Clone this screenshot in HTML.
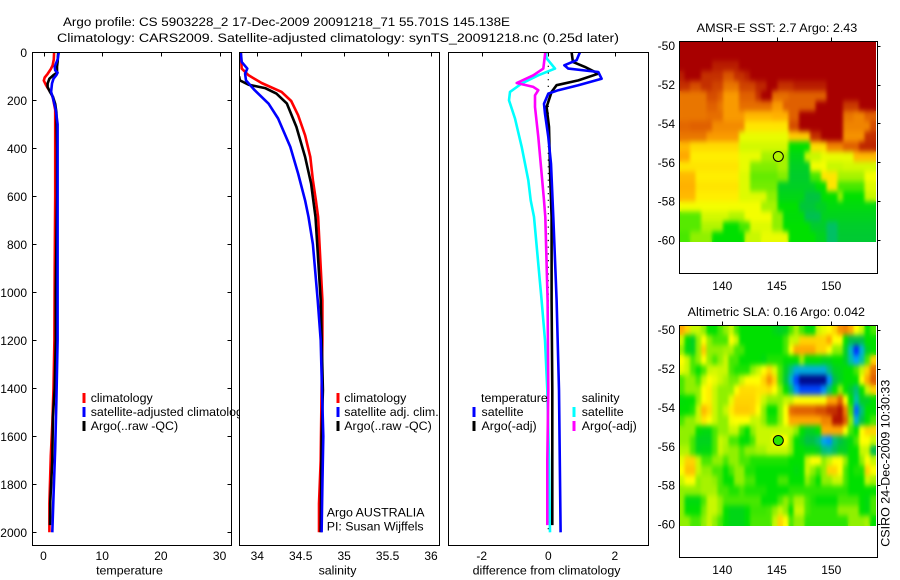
<!DOCTYPE html>
<html lang="en">
<head>
<meta charset="utf-8">
<title>Argo profile</title>
<style>
html,body{margin:0;padding:0;background:#fff;}
svg{display:block;}
text{font-family:"Liberation Sans",sans-serif;font-size:12.4px;fill:#000;}
text.num{font-size:12px;}
</style>
</head>
<body>
<svg id="chart" xmlns="http://www.w3.org/2000/svg" width="900" height="580" viewBox="0 0 900 580">
<defs>
<clipPath id="clip-temp"><rect x="32.5" y="52.5" width="199" height="493"/></clipPath>
<clipPath id="clip-sal"><rect x="239.5" y="52.5" width="200" height="493"/></clipPath>
<clipPath id="clip-diff"><rect x="448.5" y="52.5" width="200" height="493"/></clipPath>
<filter id="map-smooth" x="0" y="0" width="1" height="1" color-interpolation-filters="sRGB">
<feGaussianBlur in="SourceGraphic" stdDeviation="1.5 2.6" result="soft"/>
<feMerge><feMergeNode in="SourceGraphic"/><feMergeNode in="soft"/></feMerge>
</filter>
</defs>
<rect x="0" y="0" width="900" height="580" fill="#fff"/>
<text x="63" y="26" textLength="447" lengthAdjust="spacingAndGlyphs">Argo profile: CS 5903228_2 17-Dec-2009 20091218_71 55.701S 145.138E</text>
<text x="57" y="42" textLength="562" lengthAdjust="spacingAndGlyphs">Climatology: CARS2009. Satellite-adjusted climatology: synTS_20091218.nc (0.25d later)</text>
<g id="panels"></g>
<text x="696.7" y="32" textLength="160.6" lengthAdjust="spacingAndGlyphs">AMSR-E SST: 2.7 Argo: 2.43</text>
<text x="687.7" y="316" textLength="177.3" lengthAdjust="spacingAndGlyphs">Altimetric SLA: 0.16 Argo: 0.042</text>
<text transform="translate(889.5 546.7) rotate(-90)" x="0" y="0" textLength="167" lengthAdjust="spacingAndGlyphs">CSIRO 24-Dec-2009 10:30:33</text>
</svg>
<script>
// ---- axis tick labels ----
const depthTicks = [0,200,400,600,800,1000,1200,1400,1600,1800,2000];
const tempTicks = [0,10,20,30];
const salTicks = [34,34.5,35,35.5,36];
const diffTicks = [-2,0,2];
const lonTicks = [140,145,150];
const latTicks = [-50,-52,-54,-56,-58,-60];

// ---- temperature panel ----
const tempClimDepth = [0,30,55,70,90,105,118,135,150,170,190,240,340,600,900,1200,1400,1550,1680,1880,2000];
const tempClimValue = [1.8,1.75,1.55,1.25,0.7,0.2,0.05,0.4,0.75,1.3,1.6,2.0,2.0,2.0,1.9,1.85,1.7,1.5,1.25,1.0,1.0];
const tempArgoDepth = [0,40,60,85,95,110,130,145,165,185,215,250,400,600,1000,1200,1400,1520,1700,1870,1970];
const tempArgoValue = [2.5,2.4,2.3,2.3,1.7,1.0,0.7,0.7,1.1,1.6,2.0,2.2,2.3,2.3,2.1,2.1,1.9,1.6,1.5,1.15,1.1];
const tempSatDepth = [0,30,60,75,85,95,110,130,165,190,240,300,600,1000,1200,1450,1650,1850,2000];
const tempSatValue = [2.6,2.4,1.9,2.0,2.4,2.2,1.7,1.45,1.3,1.6,2.1,2.4,2.4,2.4,2.4,2.2,2.0,1.7,1.5];

// ---- salinity panel ----
const salClimDepth = [0,68,96,128,165,203,262,346,436,533,617,686,1033,1200,1400,1700,1880,2000];
const salClimValue = [33.81,33.82,33.9,34.05,34.28,34.39,34.47,34.55,34.61,34.64,34.675,34.7,34.75,34.75,34.74,34.73,34.71,34.71];
const salArgoDepth = [100,117,135,149,172,213,311,436,547,617,686,1033,1408,1600,2000];
const salArgoValue = [33.79,33.8,33.9,34.09,34.22,34.34,34.45,34.55,34.62,34.645,34.67,34.73,34.755,34.74,34.73];
const salSatDepth = [0,40,68,89,117,158,214,276,394,505,617,686,800,1033,1200,1408,1600,1800,2000];
const salSatValue = [33.81,33.82,33.885,33.86,33.87,33.97,34.13,34.24,34.38,34.47,34.55,34.59,34.64,34.695,34.73,34.745,34.76,34.75,34.74];

// ---- difference panel ----
const diffSalSatDepth = [0,25,68,96,130,165,200,276,394,533,617,686,1033,1200,1408,1700,2000];
const diffSalSatValue = [-0.07,-0.05,0.2,-0.3,-0.8,-1.15,-1.18,-1.0,-0.8,-0.6,-0.53,-0.43,-0.2,-0.1,-0.03,0.02,0.05];
const diffSalArgoDepth = [0,68,96,128,144,158,179,228,353,505,617,686,1033,1408,1700,1970];
const diffSalArgoValue = [-0.09,-0.15,-0.45,-0.95,-0.45,-0.3,-0.4,-0.4,-0.3,-0.2,-0.13,-0.09,-0.02,0,-0.03,-0.03];
const diffTempArgoDepth = [0,40,61,89,117,137,165,228,311,533,686,1033,1408,1970];
const diffTempArgoValue = [0.7,0.74,1.1,1.5,0.9,0.25,0.1,-0.05,0.02,0.06,0.1,0.1,0.12,0.12];
const diffTempSatDepth = [0,33,54,68,82,110,137,158,172,214,256,353,464,686,1033,1408,2000];
const diffTempSatValue = [0.95,0.85,0.48,0.6,1.5,1.6,0.9,0.3,0,-0.13,-0.1,0,0.08,0.15,0.25,0.32,0.37];
const diffZeroDepth = [0,2000];
const diffZeroValue = [0,0];

// ---- satellite maps (colour level per grid cell, rows north to south) ----
const sstGrid = [
[10,10,10,10,10,10,10,10,10,10,10,10,10,10,10,10,10,10,10,10,10,10,10,10,10,10,10,10,10,10,10,10,10,10,10,10],
[10,10,10,10,10,10,10,10,10,10,10,10,10,10,10,10,10,10,10,10,10,10,10,10,10,10,10,10,10,10,10,10,10,10,10,10],
[10,10,10,10,10,10,9.7,9.7,9.7,9.7,9.7,10,10,10,10,10,10,10,10,10,10,10,10,10,10,10,10,10,10,10,10,10,10,10,10,10],
[9.7,10,10,10,9.5,9.5,9.5,9.5,9.1,9.1,9.5,9.5,9.7,10,10,10,10,10,10,10,10,10,10,10,10,10,10,10,10,10,10,10,10,10,10,10],
[9.5,9.5,9.2,9.2,9.5,9.5,9.3,9.3,8.7,8.7,8.7,9.3,9.3,9.3,9.6,9.6,10,10,9.5,9.5,9.5,9.7,9.7,9.7,9.7,9.7,9.7,10,10,10,10,10,10,10,10,10],
[8.7,8.7,8.7,8.7,8.7,9.2,9.2,9,8.2,8.2,8.2,9,9,9,9.5,10,10,8.8,8.8,8.8,9,9,9,9,9,9,9,10,10,10,10,10,10,10,10,10],
[8.7,8.7,8.7,8.7,8.7,9,9,8.7,8.2,8.2,8.2,8.8,8.8,8.8,8.8,8.8,8.8,8.2,8.2,9,9,9,9,9,9,10,10,10,10,10,9.4,9.4,9.4,10,10,10],
[8.7,8.7,8.7,8.7,8.7,8.8,8.8,8.8,8.2,8.2,8.2,8.2,7.8,7.8,7.8,7.8,7.8,7.9,7.9,7.9,9,9,10,10,10,10,10,10,10,10,8.7,8.7,8.5,8.5,9,9],
[8.9,8.9,9,9,9,9,8.4,8.4,8.4,8.4,8.4,8.4,7.3,7.3,7.3,7.3,7.3,7.3,7.3,7.3,9.2,9.2,10,10,10,10,10,10,10,10,8.5,8.5,8.5,8.5,8.5,9.2],
[8.7,8.7,8.7,8.7,8.7,8.2,8.2,8.2,8.2,8.2,8.2,6.8,6.8,6.8,6.8,6.8,6.8,6.8,6.8,6.8,7.6,7.6,7.6,7.6,9.5,9.5,10,10,10,10,8.3,8.3,8.3,8.3,9.5,9.5],
[7.8,7.8,7.4,7.4,7.4,7.4,7.4,7.4,7.4,7.4,7.4,6.6,6.6,6.6,6.6,6.6,6.6,6.6,6.6,6.6,5,5,5,5,7.4,7.4,7.4,8.5,8.5,8.5,9,9,9,9.6,9.6,9.6],
[8,8,7.2,7.2,7.2,7.2,7.2,7.2,7.2,7.2,7.2,6.8,6.8,6.8,6.8,6.2,6.2,6.2,6.2,6.2,4.7,4.7,4.7,6.5,6.5,6.5,6.8,6.8,6.8,6.8,6.8,6.8,7.8,7.8,7.8,7.8],
[7.3,7.3,7.3,7.3,7.3,7.3,7.3,7.3,7.3,7.3,7.3,6.8,6.8,5.9,5.9,5.9,5.9,5.9,6.2,6.2,4.5,4.5,4.5,4.5,6.9,6.9,6.9,6.5,6.5,6.5,6.6,6.6,6.6,6.6,6.6,6.6],
[7.8,7.8,7.8,7.2,7.2,7.2,7.2,7.2,7.2,7.2,7.2,6.7,6.7,5.7,5.7,5.7,5.7,5.7,5.9,5.9,4.4,4.4,4.4,4.4,5.5,5.5,7.3,7.3,7.3,6.2,6.2,6.2,6.2,6.2,6.9,6.9],
[7.9,7.9,7.9,7.3,7.3,7.3,7.3,7.3,7.3,7.3,7.3,6.7,6.7,5.8,5.8,5.8,5.8,5.8,4.5,4.5,4.5,4.5,4.5,4.5,4.5,5,5,7.3,7.3,5.5,5.5,5.5,5.5,5.5,6.7,6.7],
[7.8,7.8,7.8,7.2,7.2,7.2,7.2,7.2,7.2,7.2,7.2,6.7,6.7,6.7,6.7,6.7,6,6,4.7,4.7,4.7,4.7,4.7,4.1,4.1,4.1,5,5,5,6,5,5,5,5,6.5,6.5],
[6.9,6.9,6.9,6.9,6.9,6.9,6.9,6.9,6.9,6.9,6.9,6.9,6.9,6.9,6.9,6.2,6.2,6.2,5,5,5,5,4.2,4.2,4.2,4.5,4.5,4.8,4.8,4.8,4.8,4.8,4.8,4.8,4.8,4.8],
[5.6,5.6,5.6,5.6,6.6,6.6,6.6,6.6,6.6,6.3,6.3,6.3,6.9,6.9,6.9,6.9,6.9,6,6,4.9,4.9,4.9,4.9,3.9,3.9,3.9,4.6,4.6,4.6,4.6,4.6,4.6,4.6,4.6,4.6,4.6],
[5.6,5.6,5.6,5.6,6.3,6.3,6.3,6.3,5,5,5,5.5,5.5,6.7,6.7,6.7,6.7,6,6,5,5,5,5,5,4.4,4.4,4.4,3.7,3.7,4.4,4.4,4.4,4.4,4.4,4.4,4.4],
[5.5,5.5,6,6,6,6,5,5,5,5,5,5,6.5,6.5,6.5,6.8,6.8,6.8,6.8,6.8,5,5,5,5,5,4.6,4.6,3.7,3.7,4.3,4.3,4.3,4.3,4.3,4.3,4.3]
];
const slaGrid = [
[8,7.5,6.5,6.5,6,5,5,5.5,6,6.5,5.5,5,5,5,5,5,5,4.7,4.5,4.7,5.5,6.2,5.5,4.9,4.9,6.5,6.8,7,7.5,8.3,8.5,8,7,6.5,5,5.5],
[6.5,5,4.5,6,7,6,5.5,5.5,5.5,7,6.5,5,5,5,5,5,5,5,5,5.5,6.5,6.5,7.5,7.5,7.5,7.5,7.5,8,7,7,5,4,4,4,5,5],
[6,4.8,4.6,6,7.6,6,6,6,6.2,6.2,5.5,5.5,5,5,5,5,5,5,5,5.5,7,8,8,8,8,7.5,7.5,7,6,6,4.5,2.7,1,2.5,4.5,5],
[7,6.5,5.5,6,7,6,5.5,6,6.5,5.5,5.5,5,5,5,5,4.8,5.2,5.2,5.2,5,5,5,6,5,5,5,4.7,4.7,5,5,4.5,3,2,3,5.5,7.5],
[6.8,6.5,5.5,5,5.5,6.5,6.6,6.5,6.5,5.5,5.2,5.2,5.2,6,6.5,7,7.5,6.7,5.5,4.5,3.4,2.4,2.4,2.4,2.4,2.4,2.4,3.5,4.5,4.7,5,5,5.5,6.5,7.5,8.7],
[5.5,6,6,5.5,6.5,7,6.8,6.5,6.2,5.8,5.8,6.5,7,7,7,7.5,8.3,7.5,5.5,4.2,2.6,1.2,0.2,0.2,0.2,0.2,0.2,1.8,4,4.6,5,5,5,7,8,9],
[5.5,6,6,6,7,7.2,6.5,6,6,6,7,7.4,7.4,7.4,7.3,7.3,7.4,7,6,5,3.6,1.8,1.2,1.2,1.2,1.2,1.8,3.6,5,6,5,4.4,3.5,5,6.5,7.5],
[4.9,5,5,6,7,7.2,6.5,6,6,6.8,7.5,7.5,7.5,7.5,7.2,6.5,6,6,6,6.5,6.5,7,7,7,7,7,7,8,8,9,7,5,3,4.5,4.5,5],
[5,5,5.2,6.5,7.8,7.4,6.5,6,6.5,7.2,7.6,7.6,7.6,7.5,7,6,5,5,6,7,8.8,9,9,9,9,9.2,9.2,9.5,9.5,9.8,8.5,5.5,1.5,3.5,5,5],
[5.5,6,6,6.5,7.3,7,6.5,6,6,6.9,7,7,7,6.5,6.5,6,5.2,5.2,6,7,8,8,8,8,8,8,8.5,8.5,9.8,9.8,9,6,2.5,4,5,5.5],
[6,6,6,5,4.8,4.8,5.5,6,6,6.5,6.5,5.5,5,6,6.5,6.5,6.5,6.5,6.5,6.5,6.5,6,5,4.5,4.6,5,8,8,8,8,7,5.5,5,7,7.5,7.5],
[6,6,5.5,4.6,4.6,4.6,5.5,6.5,6.3,5.5,5.5,5,4.9,5.5,6.5,6.5,6.5,7,7,7,6,5,4.6,4,4,3.5,2.2,1.8,3.5,4,4.5,4.8,5.5,7,7,6.5],
[6.3,6.3,5.5,4.7,4.8,4.8,5.5,6.5,6.2,6,6,5.5,6,6,6.2,6.2,6.5,6.5,6.5,6.5,6,5,5,4.8,4.8,4.5,3.5,3.3,3.8,4.5,4.5,5,5,6.5,6.5,4],
[6.8,7.5,7.5,6.5,5.5,5.5,6,6,5.5,6,6,5.5,5.5,5.2,5.2,5.2,5.2,5.2,5.2,5.2,5,5,5,6.5,7,7,6,6.5,7,7,6,5,5,6,7,6.5],
[7,7.7,7.7,6.5,6,6,5.5,5.5,5,5.5,6,6,5.2,5.2,5,5,5,5,5,5,5,4.8,5,6.5,6,5.5,6,7.5,7.5,7,5.5,5,5.2,5.2,7.5,7],
[6.5,7,7,6,6.2,6.2,6,5.5,5,5,6,6,5.5,5.5,5,5,5,5,5.5,5.5,5,5,5,6,5.5,5,6,6,6.5,6.5,5.5,5,5,5,6.5,6.2],
[6,6,6,6,6.2,6.2,6.2,5.5,5.5,5.2,5.2,5.5,5.2,5.2,5.2,5.2,5,5,5,5,5.3,5.3,5.3,5.3,5.3,5.3,5.3,5.3,5.3,5.3,5.3,5,5,5,5,5],
[6,4.8,4.8,4.8,5.5,6.5,6.5,6,5.5,5.5,5.5,5.5,5.5,5.5,5.5,5,5,5,5.5,6,5.5,6.2,6.2,5.5,5.2,5,5,5,5,5.5,5.5,5.5,5.5,5,4.8,5.5],
[6,5,5,5,5.8,6.5,6.5,6,5,4.7,4.7,4.7,5,5.4,5.4,5.4,5.5,6,6.5,6,5,6.5,6.5,5.5,5.3,5.3,5.3,5.3,5.3,6,6,6,6,5,4.8,5.5],
[6,6,5.5,5.5,6,6.5,6,5.5,5,4.7,4.7,4.7,5,5.5,5.5,5.5,5.5,6.5,7.5,7,5.5,6,6,5.3,5.3,5.3,5.3,5.3,5.3,5.3,5.3,6,6,6,6.2,5]
];
const argoLon = [145.138];
const argoLat = [-55.701];
const sstArgoLevel = [6.3];
const slaArgoLevel = [5.3];

const SVG_NS = 'http://www.w3.org/2000/svg';
const root = document.getElementById('panels');

function addLine(parent, x1, y1, x2, y2, name, color, width) {
  const el = document.createElementNS(SVG_NS, 'line');
  el.setAttribute('x1', x1); el.setAttribute('y1', y1);
  el.setAttribute('x2', x2); el.setAttribute('y2', y2);
  el.setAttribute('stroke', color || '#000');
  el.setAttribute('stroke-width', width || 1);
  el.setAttribute('shape-rendering', 'crispEdges');
  
  
  parent.appendChild(el);
  return el;
}
function addText(parent, x, y, str, name, anchor, isNumber) {
  const el = document.createElementNS(SVG_NS, 'text');
  el.setAttribute('x', x); el.setAttribute('y', y);
  if (anchor) el.setAttribute('text-anchor', anchor);
  if (isNumber) el.setAttribute('class', 'num');
  el.textContent = str;
  
  
  parent.appendChild(el);
  return el;
}
function addFrame(parent, x, y, w, h, name) {
  const el = document.createElementNS(SVG_NS, 'rect');
  el.setAttribute('x', x); el.setAttribute('y', y);
  el.setAttribute('width', w); el.setAttribute('height', h);
  el.setAttribute('fill', 'none');
  el.setAttribute('stroke', '#000');
  el.setAttribute('stroke-width', 1);
  el.setAttribute('shape-rendering', 'crispEdges');
  
  
  parent.appendChild(el);
}
function addBackground(parent, x, y, w, h) {
  const el = document.createElementNS(SVG_NS, 'rect');
  el.setAttribute('x', x); el.setAttribute('y', y);
  el.setAttribute('width', w); el.setAttribute('height', h);
  el.setAttribute('fill', '#fff');
  
  
  parent.appendChild(el);
}
function addGroup(name) {
  const g = document.createElementNS(SVG_NS, 'g');
  
  
  root.appendChild(g);
  return g;
}
function addProfile(parent, xFn, depths, values, color, name, width, dash) {
  const el = document.createElementNS(SVG_NS, 'polyline');
  const pts = depths.map(function (d, i) { return xFn(values[i]).toFixed(1) + ',' + yDepth(d).toFixed(1); });
  el.setAttribute('points', pts.join(' '));
  el.setAttribute('fill', 'none');
  el.setAttribute('stroke', color);
  el.setAttribute('stroke-width', width || 2.6);
  el.setAttribute('stroke-linejoin', 'round');
  if (dash) el.setAttribute('stroke-dasharray', dash);
  
  
  parent.appendChild(el);
}
function yDepth(d) { return 52.3 + d * 0.24; }
function xTemp(v) { return 43.5 + v * 5.87; }
function xSal(v) { return 257.3 + (v - 34) * 86.85; }
function xDiff(v) { return 548.3 + v * 33.3; }
function addLegendEntry(parent, barX, textX, baseY, color, label, name) {
  addLine(parent, barX, baseY - 9, barX, baseY + 1, name + '-swatch', color, 3);
  addText(parent, textX, baseY, label, name);
}

// ===== temperature panel =====
(function () {
  const g = addGroup('temperature-panel');
  addBackground(g, 32.5, 52.5, 199, 493);
  const c = addGroup('temperature-profiles');
  c.setAttribute('clip-path', 'url(#clip-temp)');
  g.appendChild(c);
  addProfile(c, xTemp, tempClimDepth, tempClimValue, '#ff0000', 'temperature-climatology-line');
  addProfile(c, xTemp, tempArgoDepth, tempArgoValue, '#000000', 'temperature-argo-line');
  addProfile(c, xTemp, tempSatDepth, tempSatValue, '#0000ff', 'temperature-satellite-line');
  addFrame(g, 32.5, 52.5, 199, 493, 'temperature-frame');
  depthTicks.forEach(function (d) {
    const y = Math.round(yDepth(d)) + 0.5;
    addLine(g, 32.5, y, 36.5, y, 'depth-tick-left');
    addLine(g, 227.5, y, 231.5, y, 'depth-tick-right');
    addText(g, 27, yDepth(d) + 4.5, String(d), 'depth-tick-label', 'end', true);
  });
  tempTicks.forEach(function (t) {
    const x = Math.round(xTemp(t)) + 0.5;
    addLine(g, x, 52.5, x, 56.5, 'temperature-top-tick');
    addText(g, xTemp(t), 560, String(t), 'temperature-tick-label', 'middle', true);
  });
  addText(g, 129.5, 574.5, 'temperature', 'temperature-axis-title', 'middle');
  addLegendEntry(g, 84, 90.7, 402, '#ff0000', 'climatology', 'legend-climatology');
  addLegendEntry(g, 84, 90.7, 416, '#0000ff', 'satellite-adjusted climatology', 'legend-satellite-adjusted');
  addLegendEntry(g, 84, 90.7, 430, '#000000', 'Argo(..raw -QC)', 'legend-argo');
})();

// ===== salinity panel =====
(function () {
  const g = addGroup('salinity-panel');
  addBackground(g, 239, 52, 201, 494);
  const c = addGroup('salinity-profiles');
  c.setAttribute('clip-path', 'url(#clip-sal)');
  g.appendChild(c);
  addProfile(c, xSal, salClimDepth, salClimValue, '#ff0000', 'salinity-climatology-line');
  addProfile(c, xSal, salArgoDepth, salArgoValue, '#000000', 'salinity-argo-line');
  addProfile(c, xSal, salSatDepth, salSatValue, '#0000ff', 'salinity-satellite-line');
  addFrame(g, 239.5, 52.5, 200, 493, 'salinity-frame');
  salTicks.forEach(function (t) {
    const x = Math.round(xSal(t)) + 0.5;
    addLine(g, x, 52.5, x, 56.5, 'salinity-top-tick');
    addText(g, xSal(t), 560, String(t), 'salinity-tick-label', 'middle', true);
  });
  addText(g, 337.5, 574.5, 'salinity', 'salinity-axis-title', 'middle');
  addLegendEntry(g, 338, 344.3, 402, '#ff0000', 'climatology', 'legend-sal-climatology');
  addLegendEntry(g, 338, 344.3, 416, '#0000ff', 'satellite adj. clim.', 'legend-sal-satellite');
  addLegendEntry(g, 338, 344.3, 430, '#000000', 'Argo(..raw -QC)', 'legend-sal-argo');
  addText(g, 326.7, 516.7, 'Argo AUSTRALIA', 'program-label');
  addText(g, 326.7, 530.7, 'PI: Susan Wijffels', 'pi-label');
})();

// ===== difference panel =====
(function () {
  const g = addGroup('difference-panel');
  addBackground(g, 448.5, 52.5, 200, 493);
  const c = addGroup('difference-profiles');
  c.setAttribute('clip-path', 'url(#clip-diff)');
  g.appendChild(c);
  addProfile(c, xDiff, diffZeroDepth, diffZeroValue, '#000000', 'zero-reference-line', 1.2, '1.2 5.5');
  addProfile(c, xDiff, diffSalSatDepth, diffSalSatValue, '#00ffff', 'salinity-satellite-diff-line');
  addProfile(c, xDiff, diffSalArgoDepth, diffSalArgoValue, '#ff00ff', 'salinity-argo-diff-line');
  addProfile(c, xDiff, diffTempArgoDepth, diffTempArgoValue, '#000000', 'temperature-argo-diff-line');
  addProfile(c, xDiff, diffTempSatDepth, diffTempSatValue, '#0000ff', 'temperature-satellite-diff-line');
  addFrame(g, 448.5, 52.5, 200, 493, 'difference-frame');
  diffTicks.forEach(function (t) {
    const x = Math.round(xDiff(t)) + 0.5;
    addLine(g, x, 52.5, x, 56.5, 'difference-top-tick');
    addText(g, xDiff(t), 560, String(t), 'difference-tick-label', 'middle', true);
  });
  addText(g, 546.5, 574.5, 'difference from climatology', 'difference-axis-title', 'middle');
  addText(g, 481, 402, 'temperature', 'legend-temperature-header');
  addLegendEntry(g, 474, 481.5, 416, '#0000ff', 'satellite', 'legend-temp-satellite');
  addLegendEntry(g, 474, 481.5, 430, '#000000', 'Argo(-adj)', 'legend-temp-argo');
  addText(g, 581.7, 402, 'salinity', 'legend-salinity-header');
  addLegendEntry(g, 574, 581.7, 416, '#00ffff', 'satellite', 'legend-sal-diff-satellite');
  addLegendEntry(g, 574, 581.7, 430, '#ff00ff', 'Argo(-adj)', 'legend-sal-diff-argo');
})();

// ===== maps =====
const levelStops = [[0,0,110],[0,48,255],[0,160,255],[0,192,168],[0,192,72],[0,224,0],[144,240,0],[255,255,0],[255,168,0],[224,96,0],[168,0,0]];
function levelColor(v) {
  const k = Math.max(0, Math.min(10, v));
  const i = Math.min(9, Math.floor(k));
  const f = k - i;
  const a = levelStops[i], b = levelStops[i + 1];
  return 'rgb(' + [0, 1, 2].map(function (n) { return Math.round(a[n] + (b[n] - a[n]) * f); }).join(',') + ')';
}
function xLon(lon) { return 722.3 + (lon - 140) * 10.9; }
function drawMap(grid, top, argoLevel, prefix) {
  const g = addGroup(prefix + '-map');
  const yLat = function (lat) { return top + 4.7 + (-50 - lat) * 19.43; };
  const lonStart = 136.05, lonStep = 0.5;
  const latStart = -49.76, latStep = (60.08 - 49.76) / 20;
  const cells = document.createElementNS(SVG_NS, 'g');
  cells.setAttribute('filter', 'url(#map-smooth)');
  
  
  g.appendChild(cells);
  grid.forEach(function (row, r) {
    row.forEach(function (v, c) {
      const x0 = xLon(lonStart + c * lonStep), x1 = xLon(lonStart + (c + 1) * lonStep);
      const y0 = yLat(latStart - r * latStep), y1 = yLat(latStart - (r + 1) * latStep);
      const el = document.createElementNS(SVG_NS, 'rect');
      el.setAttribute('x', x0.toFixed(2));
      el.setAttribute('y', y0.toFixed(2));
      el.setAttribute('width', (x1 - x0 + 0.4).toFixed(2));
      el.setAttribute('height', (y1 - y0 + 0.4).toFixed(2));
      el.setAttribute('fill', levelColor(v));
      el.setAttribute('shape-rendering', 'crispEdges');
      
      
      cells.appendChild(el);
    });
  });
  const circle = document.createElementNS(SVG_NS, 'circle');
  circle.setAttribute('cx', xLon(argoLon[0]).toFixed(1));
  circle.setAttribute('cy', yLat(argoLat[0]).toFixed(1));
  circle.setAttribute('r', 5);
  circle.setAttribute('fill', levelColor(argoLevel));
  circle.setAttribute('stroke', '#000');
  circle.setAttribute('stroke-width', 1);
  
  
  g.appendChild(circle);
  addFrame(g, 679.5, top + 0.5, 198, 232, prefix + '-frame');
  lonTicks.forEach(function (t) {
    const x = Math.round(xLon(t)) + 0.5;
    addLine(g, x, top - 3.5, x, top + 0.5, prefix + '-lon-tick');
    addText(g, xLon(t), top + 249, String(t), prefix + '-lon-label', 'middle', true);
  });
  latTicks.forEach(function (t) {
    const y = Math.round(yLat(t)) + 0.5;
    addLine(g, 877.5, y, 880.5, y, prefix + '-lat-tick');
    addText(g, 675, yLat(t) + 4.5, String(t), prefix + '-lat-label', 'end', true);
  });
}
drawMap(sstGrid, 41, sstArgoLevel[0], 'sst');
drawMap(slaGrid, 325, slaArgoLevel[0], 'sla');
</script>
</body>
</html>
